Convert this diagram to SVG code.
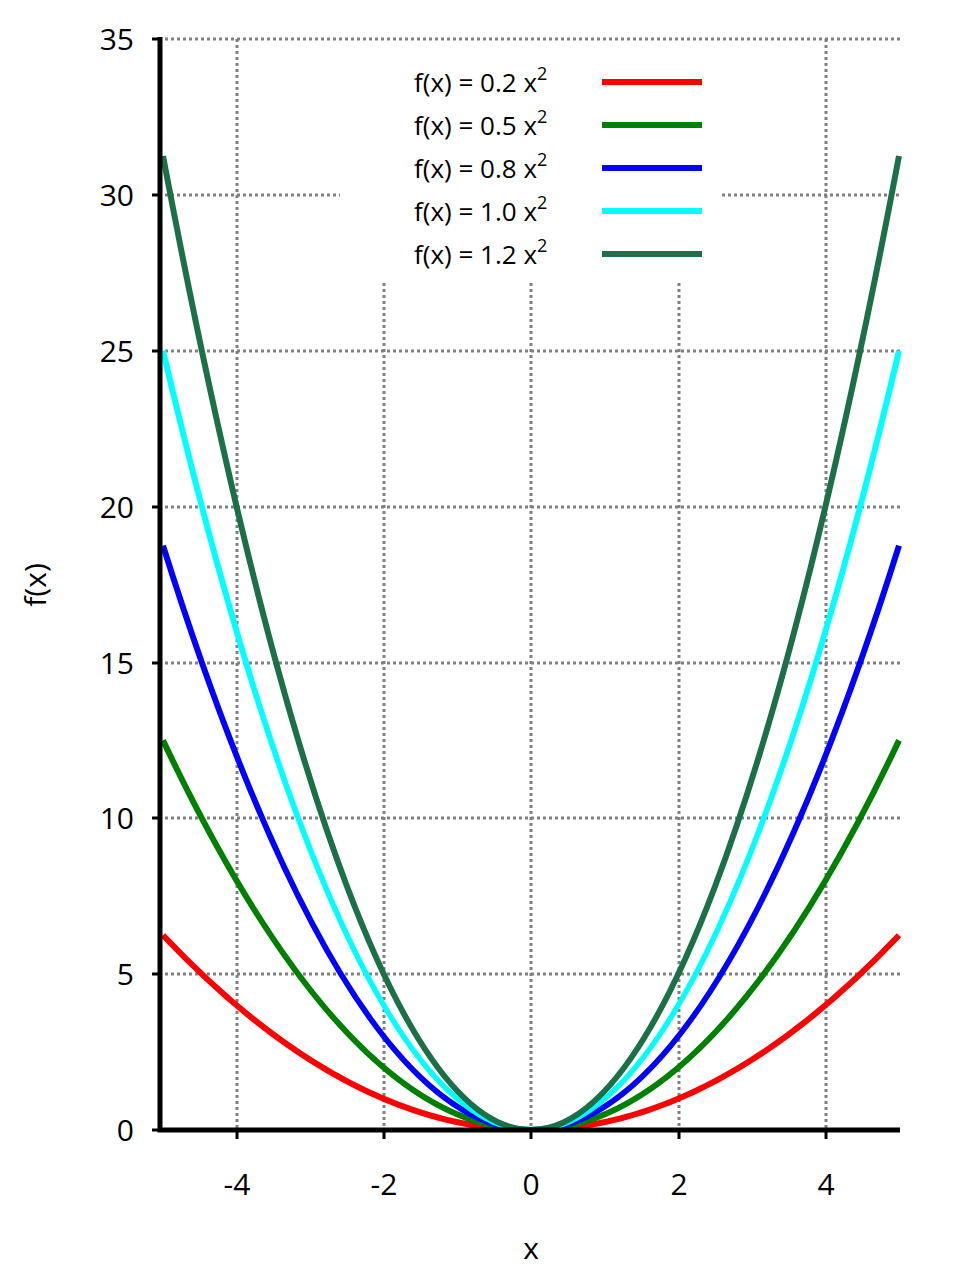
<svg xmlns="http://www.w3.org/2000/svg" width="960" height="1280" viewBox="0 0 960 1280">
<style>
.g{stroke:#808080;stroke-width:3;stroke-dasharray:3,3;fill:none}
.c{fill:none;stroke-width:6}
.t{font-family:"Open Sans","DejaVu Sans",sans-serif;font-size:30px;fill:#000}
.l{font-family:"Open Sans","DejaVu Sans",sans-serif;font-size:26px;fill:#000}
</style>
<defs><clipPath id="cp"><rect x="158" y="30" width="750" height="1100"/></clipPath></defs>
<rect width="960" height="1280" fill="#fff"/>
<g id="grid">
<path class="g" d="M165 39H900M165 195H340M722 195H900M165 351H900M165 507H900M165 663H900M165 818H900M165 974H900"/>
<path class="g" d="M237 39V1130M826 39V1130M384 283V1130M531 283V1130M679 283V1130"/>
</g>
<g id="connectors" clip-path="url(#cp)">
<path class="c" stroke="#ff0000" d="M163 935.2Q531 1324.8 899 935.2"/>
<path class="c" stroke="#008000" d="M163 740.4Q531 1519.6 899 740.4"/>
<path class="c" stroke="#0000ff" d="M163 545.6Q531 1714.4 899 545.6"/>
<path class="c" stroke="#00ffff" d="M163 350.8Q531 1909.2 899 350.8"/>
<path class="c" stroke="#1b7048" d="M163 156Q531 2104 899 156"/>
</g>
<g id="axes" stroke="#000" fill="none">
<path stroke-width="5" d="M160 37V1132.5M158 1130H900"/>
<path stroke-width="3" d="M152 39H160M152 195H160M152 351H160M152 507H160M152 663H160M152 818H160M152 974H160M152 1130H160M237 1130V1139M384 1130V1139M531 1130V1139M679 1130V1139M826 1130V1139"/>
</g>
<g id="ylabels" class="t" text-anchor="end">
<text x="134" y="50">35</text><text x="134" y="206">30</text><text x="134" y="362">25</text><text x="134" y="518">20</text><text x="134" y="674">15</text><text x="134" y="829">10</text><text x="134" y="985">5</text><text x="134" y="1141">0</text>
</g>
<g id="xlabels" class="t" text-anchor="middle">
<text x="237" y="1195">-4</text><text x="384" y="1195">-2</text><text x="531" y="1195">0</text><text x="679" y="1195">2</text><text x="826" y="1195">4</text>
<text x="531" y="1259">x</text>
<text transform="translate(46 585) rotate(-90)">f(x)</text>
</g>
<g id="legend">
<text class="l" x="414" y="92">f(x) = 0.2 x<tspan font-size="18" dy="-12">2</tspan></text>
<text class="l" x="414" y="135">f(x) = 0.5 x<tspan font-size="18" dy="-12">2</tspan></text>
<text class="l" x="414" y="178">f(x) = 0.8 x<tspan font-size="18" dy="-12">2</tspan></text>
<text class="l" x="414" y="221">f(x) = 1.0 x<tspan font-size="18" dy="-12">2</tspan></text>
<text class="l" x="414" y="264">f(x) = 1.2 x<tspan font-size="18" dy="-12">2</tspan></text>
<path class="c" stroke="#ff0000" d="M602 82H702"/>
<path class="c" stroke="#008000" d="M602 125H702"/>
<path class="c" stroke="#0000ff" d="M602 168H702"/>
<path class="c" stroke="#00ffff" d="M602 211H702"/>
<path class="c" stroke="#1b7048" d="M602 254H702"/>
</g>
</svg>
